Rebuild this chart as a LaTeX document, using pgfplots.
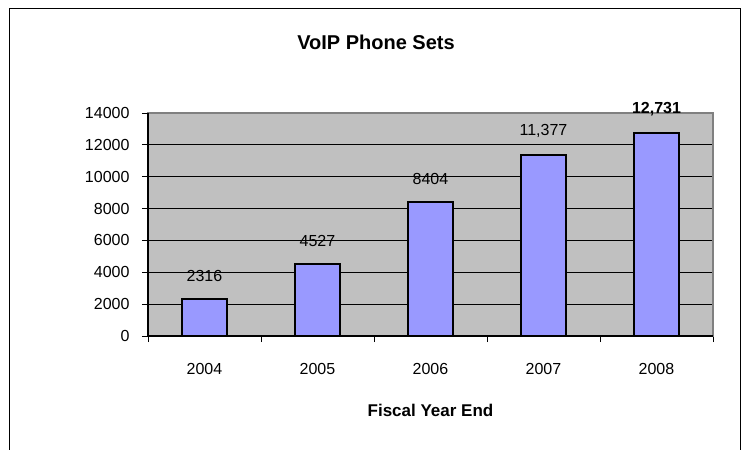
\documentclass[border=0pt]{standalone}
\usepackage{fontspec}
\setmainfont{Liberation Sans}
\usepackage{pgfplots}
\pgfplotsset{compat=1.18}
\definecolor{barfill}{HTML}{9999FF}
\definecolor{plotbg}{HTML}{C0C0C0}
\definecolor{frameline}{HTML}{808080}
\begin{document}
\begin{tikzpicture}[x=1pt,y=1pt]
\useasboundingbox (0,0) rectangle (742,450);
% outer chart frame
\draw[black, line width=1pt] (9,0) -- (9,441) -- (740,441) -- (740,0);
\begin{axis}[
  at={(148pt,114pt)}, anchor=south west,
  scale only axis, width=565pt, height=223pt,
  xmin=-0.5, xmax=4.5, ymin=0, ymax=14000,
  ytick={0,2000,...,14000},
  xtick={0,...,4}, xticklabels={2004,2005,2006,2007,2008},
  minor xtick={-0.5,0.5,...,4.5},
  major x tick style={draw=none},
  xtick pos=bottom, ytick pos=left,
  tick align=outside,
  major tick length=6pt, minor tick length=6pt,
  tick style={black, line width=0.8pt},
  axis background/.style={fill=plotbg},
  ymajorgrids, grid style={black, line width=0.8pt},
  axis line style={frameline, line width=1.2pt},
  scaled ticks=false,
  /pgf/number format/assume math mode=true,
  /pgf/number format/set thousands separator={},
  tick label style={font=\fontsize{16}{18}\selectfont},
  xticklabel style={yshift=-18pt},
  yticklabel style={xshift=-9pt},
  xlabel={\textbf{Fiscal Year End}},
  xlabel style={font=\fontsize{17}{20}\selectfont, yshift=-22pt},
  ybar, bar width=0.4,
  point meta=explicit symbolic,
  nodes near coords,
  nodes near coords style={font=\fontsize{16}{18}\selectfont, anchor=south, yshift=13pt},
  clip=false,
]
\addplot[fill=barfill, draw=black, line width=1.5pt] coordinates {
  (0,2316) [2316]
  (1,4527) [4527]
  (2,8404) [8404]
  (3,11377) [11,377]
  (4,12731) [\textbf{12,731}]
};
\draw[black, line width=1.2pt] (rel axis cs:0,1) -- (rel axis cs:0,0) -- (rel axis cs:1,0);
\end{axis}
\node[font=\fontsize{20}{24}\selectfont\bfseries] at (376,408) {VoIP Phone Sets};
\end{tikzpicture}
\end{document}
